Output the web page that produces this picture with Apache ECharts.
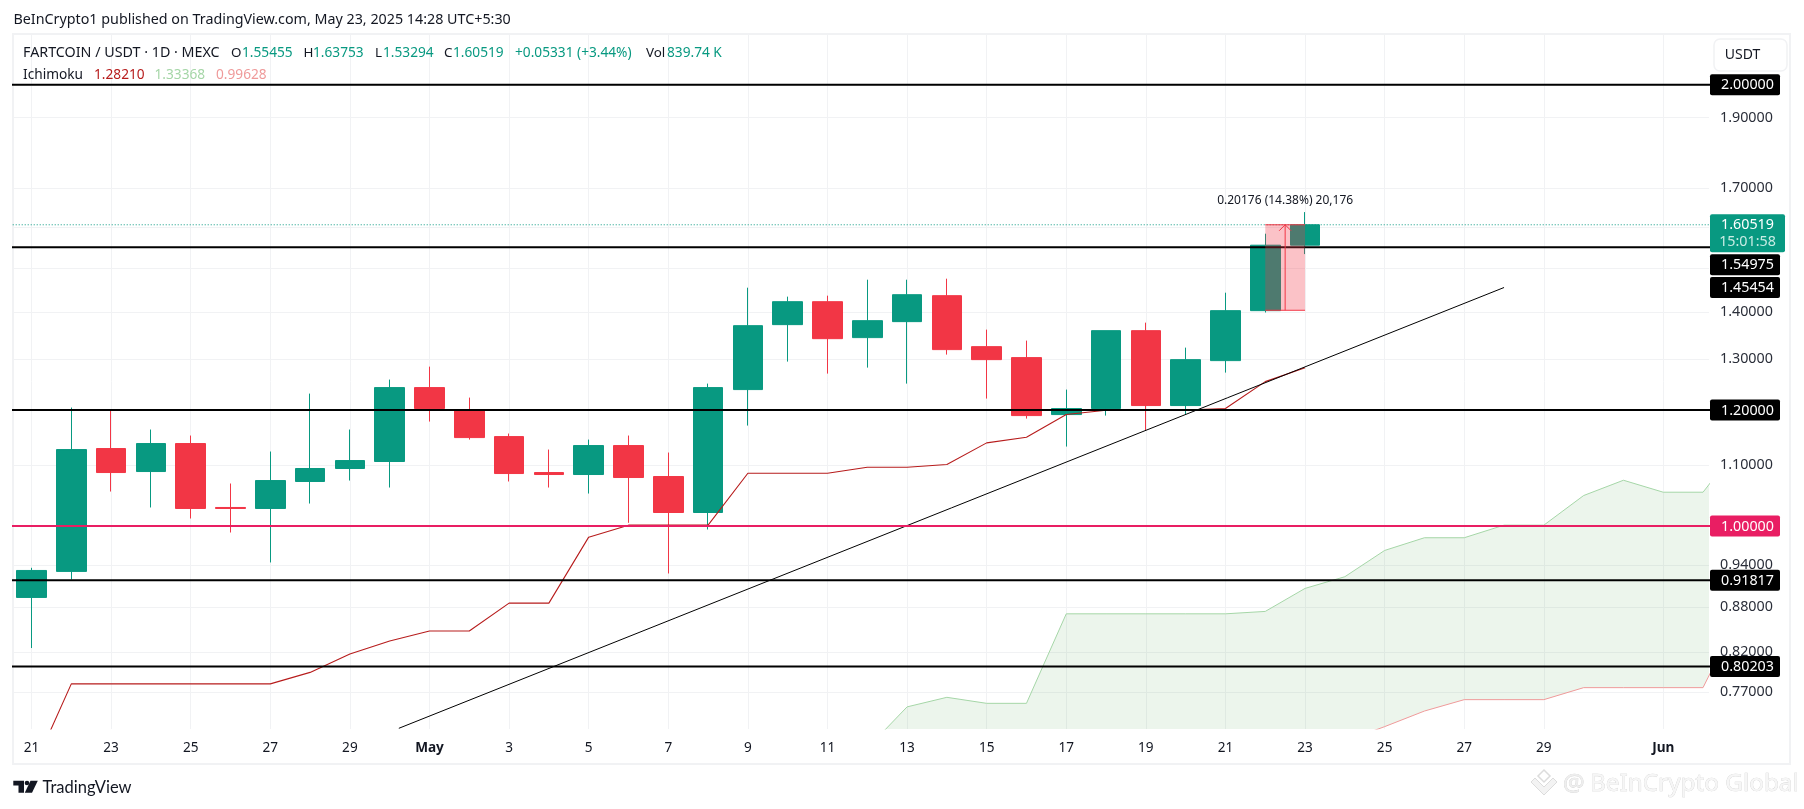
<!DOCTYPE html>
<html><head><meta charset="utf-8">
<style>html,body{margin:0;padding:0;background:#fff}#c{width:1804px;height:809px}</style>
<script src="https://cdn.jsdelivr.net/npm/echarts@6/dist/echarts.min.js"></script>
</head><body><div id="c"></div>
<script>
// ---- data ----
const days   = [0,1,2,3,4,5,6,7,8,9,10,11,12,13,14,15,16,17,18,19,20,21,22,23,24,25,26,27,28,29,30,31,32];
const opens  = [0.8938,0.9311,1.1294,1.0893,1.1383,1.0295,1.0279,1.0724,1.0945,1.1066,1.2429,1.1988,1.1508,1.0876,1.0842,1.1347,1.0808,1.0214,1.2390,1.3721,1.4225,1.3444,1.3786,1.4360,1.3255,1.3028,1.1913,1.2026,1.3592,1.2083,1.2967,1.4026,1.55455];
const closes = [0.9325,1.1276,1.0876,1.1383,1.0279,1.0279,1.0740,1.0945,1.1083,1.2429,1.2026,1.1490,1.0859,1.0842,1.1347,1.0791,1.0214,1.2429,1.3699,1.4225,1.3422,1.3807,1.4382,1.3193,1.2987,1.1894,1.2026,1.3592,1.2083,1.2987,1.4026,1.5545,1.60519];
const lows   = [0.8255,0.9194,1.0556,1.0295,1.0118,0.9898,0.9443,1.0359,1.0740,1.0623,1.1783,1.1454,1.0724,1.0623,1.0523,1.0050,0.9281,0.9945,1.1709,1.2947,1.2705,1.2825,1.2507,1.3090,1.2216,1.1838,1.1329,1.1894,1.1617,1.1913,1.2725,1.3985,1.53294];
const highs  = [0.9364,1.2045,1.2007,1.1636,1.1527,1.0690,1.1241,1.2312,1.1636,1.2586,1.2845,1.2235,1.1563,1.1276,1.1454,1.1527,1.1223,1.2507,1.4541,1.4338,1.4360,1.4725,1.4725,1.4748,1.3614,1.3381,1.2390,1.3592,1.3764,1.3234,1.4427,1.5828,1.63753];

const baseLine = [0.6786,0.7803,0.7803,0.7803,0.7803,0.7803,0.7803,0.7945,0.8178,0.8346,0.8478,0.8478,0.8859,0.8859,0.9826,1.0013,1.0013,1.0013,1.0864,1.0864,1.0864,1.0967,1.0967,1.1014,1.1395,1.1496,1.1913,1.1994,1.2000,1.2000,1.2026,1.2546,1.2821];

const spanDays = [21,22,23,24,25,26,27,28,29,30,31,32,33,34,35,36,37,38,39,40,41,42,43];
const spanA = [0.7052,0.7526,0.7640,0.7568,0.7568,0.8711,0.8711,0.8711,0.8711,0.8711,0.8744,0.9066,0.9234,0.9623,0.9817,0.9817,1.0013,1.0013,1.0490,1.0745,1.0545,1.0545,1.1424];
const spanB = [0.60,0.60,0.60,0.62,0.62,0.62,0.62,0.62,0.64,0.66,0.68,0.69,0.7130,0.7296,0.7477,0.7612,0.7612,0.7612,0.7757,0.7757,0.7757,0.7757,0.8799];

const trendDays = [9.23,37];
const trendPrices = [0.7277,1.45454];

const levelDays = [-1,44];
const levelBlack = [2.0,1.54975,1.2,0.91817,0.80203];
const levelPink = 1.0;
const lastClose = 1.60519;

const measureDays = [31,32];
const measurePrices = [1.40343,1.60519];
const measureText = '0.20176 (14.38%) 20,176';

const yTicks = [2.0,1.9,1.7,1.6,1.5,1.4,1.3,1.2,1.1,1.0,0.94,0.88,0.82,0.77];
const yLabelTicks = [1.9,1.7,1.4,1.3,1.1,0.94,0.88,0.82,0.77];
const xTickDays = [0,2,4,6,8,10,12,14,16,18,20,22,24,26,28,30,32,34,36,38,41];
const xTickLabels = ['21','23','25','27','29','May','3','5','7','9','11','13','15','17','19','21','23','25','27','29','Jun'];

const tagPrices = [2.0,1.54975,1.45454,1.2,1.0,0.91817,0.80203];
const tagTexts = ['2.00000','1.54975','1.45454','1.20000','1.00000','0.91817','0.80203'];
const tagShift = [0,17.5,0,0,0,0,0];

// ---- style ----
const FONT = '"Noto Sans", sans-serif';
const UP='#089981', DOWN='#F23645', GRID='#f1f2f4', INK='#131722';
const chart = echarts.init(document.getElementById('c'), null, {renderer:'canvas'});

const hdr = [
 ['FARTCOIN / USDT · 1D · MEXC',23,53,INK,14.3],['O',231,53,INK,13.4],['1.55455',242,53,UP,13.7],['H',303.5,53,INK,13.4],['1.63753',313,53,UP,13.7],
 ['L',375,53,INK,13.4],['1.53294',383,53,UP,13.7],['C',444,53,INK,13.4],['1.60519',453,53,UP,13.7],['+0.05331 (+3.44%)',515,53,UP,13.7],
 ['Vol',646,53,INK,13.4],['839.74 K',667,53,UP,13.7],['Ichimoku',23,75,INK,13.7],['1.28210',94,75,'#B71C1C',13.7],['1.33368',154.5,75,'#A5D6A7',13.7],['0.99628',216,75,'#EF9A9A',13.7],
 ['BeInCrypto1 published on TradingView.com, May 23, 2025 14:28 UTC+5:30',13.5,20,INK,14.3]
];
const graphics = hdr.map(h=>({type:'text',z:20,x:h[1],y:h[2],style:{text:h[0],fill:h[3],font:h[4]+'px '+FONT,textVerticalAlign:'middle'}}));
graphics.push(
 {type:'rect',z:-1,shape:{x:13,y:34,width:1777,height:730},style:{fill:'none',stroke:GRID,lineWidth:2}},
 {type:'rect',z:20,shape:{x:1714,y:39,width:73,height:32,r:6},style:{fill:'#fff',stroke:GRID,lineWidth:1.5}},
 {type:'text',z:21,x:1742.5,y:55,style:{text:'USDT',fill:INK,font:'14px '+FONT,textAlign:'center',textVerticalAlign:'middle'}},
 {type:'polygon',z:20,shape:{points:[[13.3,780.7],[24,780.7],[24,792.7],[18.5,792.7],[18.5,785.5],[13.3,785.5]]},style:{fill:INK}},
 {type:'circle',z:20,shape:{cx:27,cy:783,r:2.3},style:{fill:INK}},
 {type:'polygon',z:20,shape:{points:[[30.5,780.7],[37.8,780.7],[32,792.7],[24.8,792.7]]},style:{fill:INK}},
 {type:'text',z:20,x:42.5,y:787.5,style:{text:'TradingView',fill:INK,font:'16.5px Lato, "Noto Sans", sans-serif',textVerticalAlign:'middle'}},
 {type:'text',z:20,x:1563,y:784,style:{text:'@',fill:'#eeeeee',stroke:'#cfcfcf',lineWidth:0.6,font:'24px '+FONT,textVerticalAlign:'middle'}},
 {type:'text',z:20,x:1590,y:784,style:{text:'BeInCrypto Global',fill:'#f6f6f6',stroke:'#cfcfcf',lineWidth:0.6,font:'24.3px '+FONT,textVerticalAlign:'middle'}},
 {type:'polygon',z:20,shape:{points:[[1544,770],[1550,776],[1544,782],[1538,776]]},style:{fill:'#fff',stroke:'#dcdcdc',lineWidth:1.5}},
 {type:'polygon',z:20,shape:{points:[[1544,787],[1553,778],[1557,782],[1544,795],[1531,782],[1535,778]]},style:{fill:'#f3f3f3',stroke:'#dcdcdc',lineWidth:1}}
);

const lineSeries = (name,x,y,color,z,width,type)=>({name,type:'line',z,data:x.map((d,i)=>[d,y[i]]),showSymbol:false,symbol:'none',silent:true,clip:true,lineStyle:{color,width:width||1,type:type||'solid'},animation:false});

const option = {
 animation:false, backgroundColor:'#fff',
 grid:{left:13,right:95,top:34,bottom:80,containLabel:false},
 xAxis:{type:'value',min:-0.465,max:42.15,
  axisLine:{show:false},axisTick:{show:false,customValues:xTickDays},
  splitLine:{show:true,lineStyle:{color:GRID,width:1}},
  axisLabel:{customValues:xTickDays,color:INK,fontFamily:FONT,fontSize:13.6,margin:12,hideOverlap:false,
   formatter:v=>{const s=xTickLabels[xTickDays.indexOf(v)];return (s==='May'||s==='Jun')?'{b|'+s+'}':s;},
   rich:{b:{fontWeight:'bold',color:INK,fontFamily:FONT,fontSize:13.6}}}},
 yAxis:{type:'log',logBase:10,min:0.7269,max:2.1662,position:'right',
  axisLine:{show:false},axisTick:{show:false,customValues:yTicks},
  splitLine:{show:true,lineStyle:{color:GRID,width:1}},
  axisLabel:{customValues:yLabelTicks,color:'#2a2e39',fontFamily:FONT,fontSize:14.3,margin:11,formatter:v=>(+v).toFixed(5)}},
 graphic:graphics,
 series:[
  {name:'cloud',type:'custom',z:1,clip:true,silent:true,data:spanDays.map((d,i)=>[d,spanA[i]]),
   encode:{x:0,y:1},
   renderItem:(p,api)=>{ if(p.dataIndex!==0) return null;
     const pts=spanDays.map((d,i)=>api.coord([d,spanA[i]])).concat(spanDays.map((d,i)=>api.coord([d,spanB[i]])).reverse());
     return {type:'polygon',shape:{points:pts},style:{fill:'rgba(67,160,71,0.1)'}};}},
  {name:'FARTCOIN / USDT',type:'candlestick',z:2,barWidth:30,silent:true,clip:true,encode:{x:0,y:[1,2,3,4]},
   data:days.map((d,i)=>[d,opens[i],closes[i],lows[i],highs[i]]),
   itemStyle:{color:UP,color0:DOWN,borderColor:UP,borderColor0:DOWN,borderColorDoji:DOWN,borderWidth:1}},
  lineSeries('Base line',days,baseLine,'#B71C1C',3,1.1),
  lineSeries('Leading span A',spanDays,spanA,'#A5D6A7',3),
  lineSeries('Leading span B',spanDays,spanB,'#EF9A9A',3),
  lineSeries('Trend',trendDays,trendPrices,'#000000',4),
  ...levelBlack.map(v=>lineSeries('Level '+v,levelDays,levelDays.map(()=>v),'#000000',5,2)),
  lineSeries('Level 1',levelDays,levelDays.map(()=>levelPink),'#e91e63',5,2),
  lineSeries('Close',levelDays,levelDays.map(()=>lastClose),UP,5,1,[1,2]),
  {name:'measure',type:'custom',z:6,clip:true,silent:true,data:[[measureDays[0],measurePrices[0]]],encode:{x:0,y:1},
   renderItem:(p,api)=>{
     const a=api.coord([measureDays[0],measurePrices[0]]), b=api.coord([measureDays[1],measurePrices[1]]);
     const mx=(a[0]+b[0])/2;
     return {type:'group',children:[
      {type:'rect',shape:{x:a[0],y:b[1],width:b[0]-a[0],height:a[1]-b[1]},style:{fill:'rgba(242,54,69,0.3)'}},
      {type:'line',shape:{x1:a[0],y1:a[1],x2:b[0],y2:a[1]},style:{stroke:DOWN,lineWidth:1}},
      {type:'line',shape:{x1:a[0],y1:b[1],x2:b[0],y2:b[1]},style:{stroke:DOWN,lineWidth:1}},
      {type:'line',shape:{x1:mx,y1:a[1],x2:mx,y2:b[1]},style:{stroke:DOWN,lineWidth:1}},
      {type:'polyline',shape:{points:[[mx-6,b[1]+6],[mx,b[1]],[mx+6,b[1]+6]]},style:{fill:'none',stroke:DOWN,lineWidth:1}}
     ]};}},
  {name:'measureText',type:'custom',z:6,clip:false,silent:true,data:[[measureDays[0],measurePrices[1]]],encode:{x:0,y:1},
   renderItem:(p,api)=>{
     const a=api.coord([measureDays[0],measurePrices[1]]), b=api.coord([measureDays[1],measurePrices[1]]);
     return {type:'text',x:(a[0]+b[0])/2,y:a[1]-24.5,style:{text:measureText,fill:INK,font:'12px '+FONT,textAlign:'center',textVerticalAlign:'middle'}};}},
  {name:'tags',type:'custom',z:10,clip:false,silent:true,data:tagPrices.map(v=>[36,v]),encode:{x:0,y:1},
   renderItem:(p,api)=>{
     const i=p.dataIndex, y=api.coord([36,tagPrices[i]])[1]+tagShift[i];
     const col=tagTexts[i]==='1.00000'?'#e91e63':'#000';
     return {type:'group',children:[
      {type:'rect',shape:{x:1710,y:y-10.5,width:70,height:21,r:2},style:{fill:col}},
      {type:'text',x:1747.5,y:y+0.5,style:{text:tagTexts[i],fill:'#fff',font:'14.3px '+FONT,textAlign:'center',textVerticalAlign:'middle'}}
     ]};}},
  {name:'lastTag',type:'custom',z:11,clip:false,silent:true,data:[[36,lastClose]],encode:{x:0,y:1},
   renderItem:(p,api)=>{
     const y=api.coord([36,lastClose])[1];
     return {type:'group',children:[
      {type:'rect',shape:{x:1710,y:y-10.5,width:75,height:38,r:2},style:{fill:UP}},
      {type:'text',x:1747.5,y:y+0.5,style:{text:'1.60519',fill:'#fff',font:'14.3px '+FONT,textAlign:'center',textVerticalAlign:'middle'}},
      {type:'text',x:1747.5,y:y+17.5,style:{text:'15:01:58',fill:'#c9ece4',font:'14.3px '+FONT,textAlign:'center',textVerticalAlign:'middle'}}
     ]};}}
 ]
};
chart.setOption(option);
</script></body></html>
